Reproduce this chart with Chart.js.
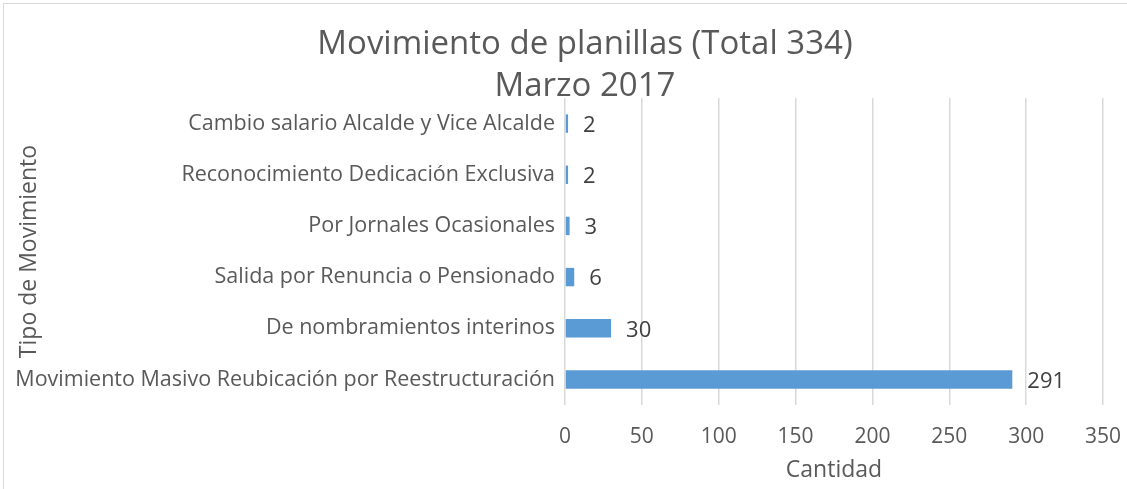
<!DOCTYPE html>
<html>
<head>
<meta charset="utf-8">
<script src="https://cdn.jsdelivr.net/npm/chart.js@4/dist/chart.umd.min.js"></script>
<style>
  html, body { margin: 0; padding: 0; background: #fff; }
  #wrap { position: relative; width: 1127px; height: 489px; }
  #frame { position: absolute; left: 3px; top: 3px; width: 1140px; height: 500px; border: 1px solid #d9d9d9; pointer-events: none; }
</style>
</head>
<body>
<div id="wrap">
  <canvas id="chart" width="1127" height="489"></canvas>
  <div id="frame"></div>
</div>
<script>
// ── DATA ─────────────────────────────────────────────
const CATEGORIES = [
  'Cambio salario Alcalde y Vice Alcalde',
  'Reconocimiento Dedicación Exclusiva',
  'Por Jornales Ocasionales',
  'Salida por Renuncia o Pensionado',
  'De nombramientos interinos',
  'Movimiento Masivo Reubicación por Reestructuración',
];
const CANTIDAD = [2, 2, 3, 6, 30, 291];
const TITLE_LINES = ['Movimiento de planillas (Total 334)', 'Marzo 2017'];

const FONT = '"Open Sans", "Liberation Sans", sans-serif';
const TEXT_GRAY = '#595959';

// value labels after the bar end
const valueLabels = {
  id: 'valueLabels',
  afterDatasetsDraw(chart) {
    const ctx = chart.ctx;
    const meta = chart.getDatasetMeta(0);
    ctx.save();
    ctx.font = '22px ' + FONT;
    ctx.fillStyle = '#404040';
    ctx.textAlign = 'left';
    ctx.textBaseline = 'middle';
    meta.data.forEach((bar, i) => {
      ctx.fillText(String(CANTIDAD[i]), bar.x + 15, bar.y + 2);
    });
    ctx.restore();
  },
};

// two-line title drawn over the top of the plot
const chartTitle = {
  id: 'chartTitle',
  afterDraw(chart) {
    const ctx = chart.ctx;
    ctx.save();
    ctx.font = '33px ' + FONT;
    ctx.fillStyle = TEXT_GRAY;
    ctx.textAlign = 'center';
    ctx.textBaseline = 'middle';
    ctx.fillText(TITLE_LINES[0], 585, 45);
    ctx.fillText(TITLE_LINES[1], 585, 87);
    ctx.restore();
  },
};

new Chart(document.getElementById('chart').getContext('2d'), {
  type: 'bar',
  data: {
    labels: CATEGORIES,
    datasets: [{
      label: 'Cantidad',
      data: CANTIDAD,
      backgroundColor: '#5b9bd5',
      categoryPercentage: 1,
      barPercentage: 0.36,
    }],
  },
  options: {
    indexAxis: 'y',
    responsive: false,
    animation: false,
    layout: { padding: { top: 98, right: 0, left: 0, bottom: 0 } },
    plugins: { legend: { display: false }, tooltip: { enabled: false } },
    scales: {
      x: {
        min: 0, max: 350,
        ticks: { stepSize: 50, color: TEXT_GRAY, font: { family: FONT, size: 21 }, padding: 19 },
        grid: { color: '#d9d9d9', drawTicks: false, lineWidth: 1.5 },
        border: { display: false },
        title: { display: true, text: 'Cantidad', color: TEXT_GRAY, font: { family: FONT, size: 23 }, padding: { bottom: 5 } },
        afterFit(scale) {
          scale.height = 84;
          scale.paddingLeft = 0;
          scale.paddingRight = 24;
        },
      },
      y: {
        ticks: { color: TEXT_GRAY, font: { family: FONT, size: 21.5 }, padding: 10, autoSkip: false },
        grid: { display: false, drawTicks: false },
        border: { display: false },
        title: { display: true, text: 'Tipo de Movimiento', color: TEXT_GRAY, font: { family: FONT, size: 23 }, padding: { top: 16 } },
        afterFit(scale) { scale.width = 565; },
      },
    },
  },
  plugins: [valueLabels, chartTitle],
});
</script>
</body>
</html>
